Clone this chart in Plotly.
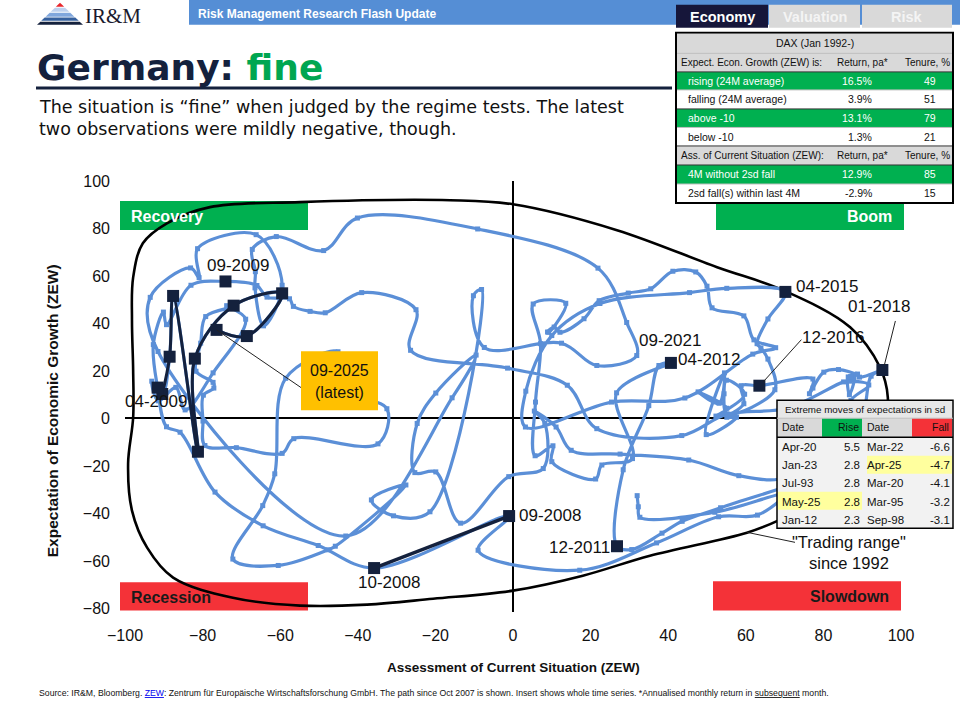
import plotly.graph_objects as go

# ---------------- data (ZEW Germany: current situation / expectations) ----------------
start_year, start_month = 2007, 11
cur_2007 = [32.0, 32.3]
exp_2007 = [-32.5, -37.2]
cur_2008 = [32.7, 52.0, 70.0, 63.0, 53.0, 37.0, 17.2, -9.0, -1.0, -35.8, -50.2, -64.4]
exp_2008 = [-41.6, -39.5, -32.0, -40.7, -41.4, -52.4, -63.9, -55.5, -41.1, -63.0, -53.5, -45.2]
cur_2009 = [-76.8, -85.8, -89.3, -91.6, -92.7, -90.1, -89.3, -83.0, -74.1, -66.0, -63.4, -57.6]
exp_2009 = [-31.0, -5.8, -3.5, 13.0, 31.1, 44.8, 39.5, 56.1, 57.7, 56.0, 51.1, 50.4]
cur_2010 = [-56.6, -52.3, -48.4, -39.0, -25.0, -26.4, -1.4, 14.0, 21.6, 43.5, 55.1, 70.7]
exp_2010 = [47.2, 45.1, 44.5, 53.0, 45.8, 28.7, 21.2, 14.0, -4.3, -7.2, 1.8, 4.3]
cur_2011 = [85.2, 86.8, 91.7, 87.1, 87.6, 91.5, 90.6, 53.5, 43.6, 38.4, 30.6, 26.8]
exp_2011 = [15.4, 15.7, 14.1, 7.6, 3.1, -9.0, -15.1, -37.6, -43.3, -48.3, -55.2, -53.8]
cur_2012 = [28.4, 35.0, 37.6, 40.7, 26.7, 30.8, 22.9, 21.3, 10.0, 10.3, 5.7, 5.8]
exp_2012 = [-21.6, 5.4, 22.3, 23.4, 10.8, -16.9, -19.6, -25.5, -18.2, -11.5, -15.7, 6.9]
cur_2013 = [7.1, 5.2, 13.6, 9.2, 8.9, 10.6, 12.1, 18.3, 22.2, 29.7, 35.5, 41.2]
exp_2013 = [31.5, 48.2, 48.5, 36.3, 36.4, 38.5, 36.3, 42.0, 49.6, 52.8, 54.6, 62.0]
cur_2014 = [47.1, 50.0, 51.3, 59.5, 62.1, 67.7, 61.8, 44.3, 25.4, 3.2, 3.3, 10.0]
exp_2014 = [61.7, 55.7, 46.6, 43.2, 33.1, 29.8, 27.1, 8.6, 6.9, -3.6, 11.5, 34.9]
cur_2015 = [22.4, 45.5, 55.1, 70.2, 65.7, 62.9, 63.9, 65.7, 67.5, 55.2, 54.4, 55.0]
exp_2015 = [48.4, 53.0, 54.8, 53.3, 41.9, 31.5, 29.7, 25.0, 12.1, 1.9, 10.4, 16.1]
cur_2016 = [59.7, 52.3, 55.1, 47.7, 53.1, 54.5, 49.8, 57.6, 55.1, 59.5, 58.8, 63.5]
exp_2016 = [10.2, 1.0, 4.3, 11.2, 6.4, 19.2, -6.8, 0.5, 0.5, 6.2, 13.8, 13.8]
cur_2017 = [77.3, 76.4, 77.3, 80.1, 83.9, 88.0, 86.4, 86.7, 87.9, 87.0, 88.8, 89.3]
exp_2017 = [16.6, 10.4, 12.8, 19.5, 20.6, 18.6, 17.5, 10.0, 17.0, 17.6, 18.7, 17.4]
cur_2018 = [95.2, 92.3, 90.7, 87.9, 87.4, 80.6, 72.4, 72.6, 76.0, 70.1, 58.2, 45.3]
exp_2018 = [20.4, 17.8, 5.1, -8.2, -8.2, -16.1, -24.7, -13.7, -10.6, -24.7, -24.1, -17.5]
cur_2019 = [27.6, 15.0, 11.1, 5.5, 8.2, 7.8, -1.1, -13.5, -19.9, -25.3, -24.7, -19.9]
exp_2019 = [-15.0, -13.4, -3.6, 3.1, -2.1, -21.1, -24.5, -44.1, -22.5, -22.8, -2.1, 10.7]
cur_2020 = [-9.5, -15.7, -43.1, -91.5, -93.5, -83.1, -80.9, -81.3, -66.2, -59.5, -64.3, -66.5]
exp_2020 = [26.7, 8.7, -49.5, 28.2, 51.0, 63.4, 59.3, 71.5, 77.4, 56.1, 39.0, 55.0]
cur_2021 = [-66.4, -67.2, -61.0, -48.8, -40.1, -9.1, 21.9, 29.3, 31.9, 21.6, 12.5, -7.4]
exp_2021 = [61.8, 71.2, 76.6, 70.7, 84.4, 79.8, 63.3, 40.4, 26.5, 22.3, 31.7, 29.9]
cur_2022 = [-10.2, -8.1, -21.4, -30.8, -36.5, -27.6, -45.8, -47.6, -60.5, -72.2, -64.5, -61.4]
exp_2022 = [51.7, 54.3, -39.3, -41.0, -34.3, -28.0, -53.8, -55.3, -61.9, -59.2, -36.7, -23.3]
cur_2023 = [-58.6, -45.1, -46.5, -32.5, -34.8, -56.5, -59.5, -71.3, -79.4, -79.9, -79.8, -77.1]
exp_2023 = [16.9, 28.1, 13.0, 4.1, -10.7, -8.5, -14.7, -12.3, -11.4, -1.1, 9.8, 12.8]
cur_2024 = [-77.3, -81.7, -80.5, -79.2, -72.3, -73.8, -68.9, -77.3, -84.5, -86.9, -91.4, -93.1]
exp_2024 = [15.2, 19.9, 31.7, 42.9, 47.1, 47.5, 41.8, 19.2, 3.6, 13.1, 7.4, 15.7]
cur_2025 = [-90.4, -88.5, -87.6, -81.2, -82.0, -72.0, -59.5, -68.6, -76.4]
exp_2025 = [10.3, 26.0, 51.6, -14.0, 25.2, 47.5, 52.7, 34.7, 37.3]

marked_dates = ["09-2008", "10-2008", "04-2009", "09-2009", "12-2011", "04-2012",
                "04-2015", "12-2016", "01-2018"]
dark_segment = ["09-2008", "10-2008"]
latest_from, latest_to = "01-2025", "09-2025"

# "Trading range" envelope since 1992
range_x = [0, 26.8, 52.6, 69.6, 86.9, 94.6, 96.6, 95.5, 87.0, 68.3, 60.3, 35.3, 18.0, 0,
           -20.6, -37.6, -54.9, -72.2, -87.6, -94.3, -98.2, -99.2, -97.9, -97.9, -98.2,
           -97.9, -95.4, -89.2, -78.1, -54.9, -16.2, 0]
range_y = [90.2, 79.3, 63.7, 54.0, 38.4, 21.5, 8.9, -6.0, -26.0, -43.0, -48.1, -57.8, -66.2,
           -72.5, -75.9, -78.4, -78.8, -75.5, -67.0, -54.4, -38.8, -19.0, 0.4, 20.2, 41.3,
           59.4, 73.8, 82.2, 89.0, 91.1, 91.9, 90.2]

x_ticks = [-100, -80, -60, -40, -20, 0, 20, 40, 60, 80, 100]
y_ticks = [-80, -60, -40, -20, 0, 20, 40, 60, 80, 100]

dax_rows = [
    ("Expect. Econ. Growth (ZEW) is:", "Return, pa*", "Tenure, %"),
    ("rising (24M average)", "16.5%", "49"),
    ("falling (24M average)", "3.9%", "51"),
    ("above -10", "13.1%", "79"),
    ("below -10", "1.3%", "21"),
    ("Ass. of Current Situation (ZEW):", "Return, pa*", "Tenure, %"),
    ("4M without 2sd fall", "12.9%", "85"),
    ("2sd fall(s) within last 4M", "-2.9%", "15"),
]
rise_dates = ["Apr-20", "Jan-23", "Jul-93", "May-25", "Jan-12"]
rise_vals = ["5.5", "2.8", "2.8", "2.8", "2.3"]
fall_dates = ["Mar-22", "Apr-25", "Mar-20", "Mar-95", "Sep-98"]
fall_vals = ["-6.6", "-4.7", "-4.1", "-3.2", "-3.1"]

# ---------------- assemble series ----------------
current = (cur_2007 + cur_2008 + cur_2009 + cur_2010 + cur_2011 + cur_2012 + cur_2013 +
           cur_2014 + cur_2015 + cur_2016 + cur_2017 + cur_2018 + cur_2019 + cur_2020 +
           cur_2021 + cur_2022 + cur_2023 + cur_2024 + cur_2025)
expect = (exp_2007 + exp_2008 + exp_2009 + exp_2010 + exp_2011 + exp_2012 + exp_2013 +
          exp_2014 + exp_2015 + exp_2016 + exp_2017 + exp_2018 + exp_2019 + exp_2020 +
          exp_2021 + exp_2022 + exp_2023 + exp_2024 + exp_2025)
labels = []
yy, mm = start_year, start_month
for _ in current:
    labels.append(f"{mm:02d}-{yy}")
    mm += 1
    if mm > 12:
        mm, yy = 1, yy + 1
idx = {lab: i for i, lab in enumerate(labels)}

# ---------------- styling / geometry ----------------
NARROW = "Liberation Sans, Arial, sans-serif"
SANS = "Liberation Sans, Arial, sans-serif"
BLUE = "#5B8FD7"
NAVY = "#14213D"
GREEN = "#00B050"
RED = "#F43238"

L, R, T, B = 125, 901, 181, 611.6
XR = [-100, 100]
YR = [-81.5, 100]
SX = (R - L) / (XR[1] - XR[0])
SY = (B - T) / (YR[1] - YR[0])


def PX(x):
    return (x - L) / (R - L)


def PY(y):
    return (B - y) / (B - T)


def off(lab, dx, dy):
    i = idx[lab]
    return current[i] + dx / SX, expect[i] - dy / SY


shapes, annots = [], []


def rect(x0, y0, x1, y1, fill, lc=None, lw=0, layer="above"):
    shapes.append(dict(type="rect", xref="paper", yref="paper", x0=PX(x0), x1=PX(x1),
                       y0=PY(y1), y1=PY(y0), fillcolor=fill, layer=layer,
                       line=dict(color=lc or fill, width=lw)))


def hline(x0, x1, y, color, w):
    shapes.append(dict(type="line", xref="paper", yref="paper", x0=PX(x0), x1=PX(x1),
                       y0=PY(y), y1=PY(y), line=dict(color=color, width=w)))


def text(x, y, s, size, color="#000", family=NARROW, xa="left", ya="middle", **kw):
    annots.append(dict(xref="paper", yref="paper", x=PX(x), y=PY(y), text=s,
                       showarrow=False, xanchor=xa, yanchor=ya, borderpad=0,
                       font=dict(size=size, color=color, family=family), **kw))


fig = go.Figure()

# trading range
fig.add_trace(go.Scatter(x=range_x, y=range_y, mode="lines",
                         line=dict(color="black", width=2.6, shape="spline", smoothing=1),
                         hoverinfo="skip"))
# full path
fig.add_trace(go.Scatter(x=current, y=expect, mode="lines+markers", text=labels,
                         line=dict(color=BLUE, width=3.2, shape="spline", smoothing=1),
                         marker=dict(symbol="square", size=5, color=BLUE)))
# dark highlighted segment (Sep-Oct 2008)
seg = [idx[d] for d in dark_segment]
fig.add_trace(go.Scatter(x=[current[i] for i in seg], y=[expect[i] for i in seg],
                         mode="lines", line=dict(color=NAVY, width=3.5)))
# latest path
i0, i1 = idx[latest_from], idx[latest_to] + 1
fig.add_trace(go.Scatter(x=current[i0:i1], y=expect[i0:i1], mode="lines+markers",
                         line=dict(color=NAVY, width=3, shape="spline", smoothing=1),
                         marker=dict(symbol="square", size=12, color=NAVY)))
# marked observations
mi = [idx[d] for d in marked_dates]
fig.add_trace(go.Scatter(x=[current[i] for i in mi], y=[expect[i] for i in mi],
                         mode="markers", marker=dict(symbol="square", size=12, color=NAVY)))

# date labels on the chart
label_specs = [
    ("09-2009", "center", 13, 16), ("04-2009", "center", -2, -14),
    ("04-2015", "left", 9, 5), ("12-2011", "right", -5, -1),
    ("09-2008", "left", 8, 1), ("10-2008", "center", 15, -14),
    ("04-2012", "left", 5, 3), ("09-2021", "left", 0, 15),
    ("01-2018", "center", -3, 64), ("12-2016", "center", 74, 48),
]
for lab, xa, xs, ys in label_specs:
    i = idx[lab]
    annots.append(dict(x=current[i], y=expect[i], xref="x", yref="y", text=lab,
                       showarrow=False, xanchor=xa, yanchor="middle", xshift=xs, yshift=ys,
                       font=dict(size=17, color="#111", family=NARROW)))
for lab, a, b in [("01-2018", (2, -5), (13, -49)), ("12-2016", (4, -4), (42, -46)),
                  ("09-2025", (0, 0), (85, 58))]:
    x0, y0 = off(lab, *a)
    x1, y1 = off(lab, *b)
    shapes.append(dict(type="line", xref="x", yref="y", x0=x0, y0=y0, x1=x1, y1=y1,
                       line=dict(color="#222", width=1)))

# latest box
rect(301, 351, 378, 410, "#FFC000")
text(339.5, 370, "09-2025", 16, "#111", xa="center")
text(339.5, 392, "(latest)", 16, "#111", xa="center")

# trading range label
shapes.append(dict(type="line", xref="paper", yref="paper", x0=PX(747), y0=PY(532),
                   x1=PX(795), y1=PY(542), line=dict(color="#222", width=1)))
text(849, 542, "\"Trading range\"", 16.5, "#111", xa="center")
text(849, 563, "since 1992", 16.5, "#111", xa="center")

# regime boxes
rect(120, 201, 308, 230, GREEN, layer="below")
text(130, 216, "<b>Recovery</b>", 16, "white")
rect(716, 201, 904, 230, GREEN, layer="below")
text(893, 216, "<b>Boom</b>", 16, "white", xa="right")
rect(120, 582, 308, 610, RED, layer="below")
text(130, 597, "<b>Recession</b>", 16, "#1a1a1a")
rect(713, 581, 901, 610, RED, layer="below")
text(890, 596, "<b>Slowdown</b>", 16, "#1a1a1a", xa="right")

# axis titles
text(513, 667, "<b>Assessment of Current Situation (ZEW)</b>", 13.5, "#111", xa="center")
text(52, 411, "<b>Expectation of Economic Growth (ZEW)</b>", 15.5, "#111", xa="center",
     textangle=-90)

# ---------------- header ----------------
rect(189, 0, 960, 25, "#558ED5")
text(197, 14, "<b>Risk Management Research Flash Update</b>", 12, "white", family=SANS)
bands = [(3, 7, "#E8262C"), (7.8, 12, "#BDD0EE"), (12.8, 16.8, "#7FA6DC"),
         (17.6, 21, "#35609E"), (21.8, 25, "#14213D")]
for y0, y1, c in bands:
    hw0, hw1 = (y0 - 3) / 22 * 23, (y1 - 3) / 22 * 23
    pts = [(60 - hw0, y0), (60 + hw0, y0), (60 + hw1, y1), (60 - hw1, y1)]
    path = "M " + " L ".join(f"{PX(a)},{PY(b)}" for a, b in pts) + " Z"
    shapes.append(dict(type="path", xref="paper", yref="paper", path=path,
                       fillcolor=c, line=dict(width=0)))
text(84, 16, "IR&amp;M", 21, "#1a1a2e", family="Liberation Serif, Times New Roman, serif")

rect(676, 5, 768, 28, "#16163A")
text(722, 17, "<b>Economy</b>", 14.5, "white", family=SANS, xa="center")
rect(769, 5, 860, 28, "#D9D9D9")
text(814.5, 17, "<b>Valuation</b>", 14.5, "#F4F4F4", family=SANS, xa="center")
rect(862, 5, 952, 28, "#D9D9D9")
text(907, 17, "<b>Risk</b>", 14.5, "#F4F4F4", family=SANS, xa="center")

text(36, 68, "<b>Germany: <span style='color:#00A651'>fine</span></b>", 36, NAVY,
     family="DejaVu Sans, Liberation Sans, sans-serif")
hline(36, 672, 88, NAVY, 3)
text(38, 107, "The situation is “fine” when judged by the regime tests. The latest", 17.5,
     "#111", family="DejaVu Sans, sans-serif")
text(38, 129, "two observations were mildly negative, though.", 17.5, "#111",
     family="DejaVu Sans, sans-serif")

# ---------------- DAX table ----------------
rect(676, 33, 953, 203, "white", "black", 2)
edges = [34, 53.5, 72, 90, 109, 127.5, 146, 165, 184, 202]
fills = ["#D9D9D9", "#D9D9D9", GREEN, "white", GREEN, "white", "#D9D9D9", GREEN, "white"]
for k, f in enumerate(fills):
    rect(677, edges[k], 952, edges[k + 1], f)
for e in [53.5, 90, 127.5, 184]:
    hline(677, 952, e, "#BFBFBF", 1)
for e in [72, 109, 146, 165]:
    hline(677, 952, e, "#333333", 1)
text(814.5, 43.5, "DAX (Jan 1992-)", 10.5, "#111", xa="center")
for k, (a, b, c) in enumerate(dax_rows):
    yc = (edges[k + 1] + edges[k + 2]) / 2
    if b.startswith("Return"):
        text(680, yc, a, 10, "#111")
        text(862, yc, b, 10, "#111", xa="center")
        text(951, yc, c, 10, "#111", xa="right")
    else:
        col = "white" if fills[k + 1] == GREEN else "#111"
        text(687, yc, a, 10.5, col)
        text(873, yc, b, 10.5, col, xa="right")
        text(929.5, yc, c, 10.5, col, xa="center")

# ---------------- extreme moves table ----------------
rect(777, 400, 953, 528, "#F2F2F2", "black", 1.5)
rect(778, 401, 952, 418, "#E7E7E7")
text(865, 409.5, "Extreme moves of expectations in sd", 9.8, "#111", xa="center")
rect(778, 418, 822, 436.5, "#D9D9D9")
rect(822, 418, 862, 436.5, GREEN)
rect(862, 418, 912, 436.5, "#D9D9D9")
rect(912, 418, 952, 436.5, RED)
hline(777, 953, 418, "#BFBFBF", 1)
hline(777, 953, 437, "black", 1.5)
rect(867, 455.5, 952, 473.5, "#FFFF9E")
rect(778, 491.5, 862, 509.5, "#FFFF9E")
text(781, 427, "Date", 10.5, "#111")
text(860, 427, "Rise", 10.5, "#111", xa="right")
text(866, 427, "Date", 10.5, "#111")
text(950, 427, "Fall", 10.5, "#111", xa="right")
for k in range(5):
    yc = 447 + k * 18.1
    text(781, yc, rise_dates[k], 11.5, "#111")
    text(861, yc, rise_vals[k], 11.5, "#111", xa="right")
    text(866, yc, fall_dates[k], 11.5, "#111")
    text(951, yc, fall_vals[k], 11.5, "#111", xa="right")

# footer
text(38, 693, "Source: IR&amp;M, Bloomberg. <span style='color:#0000EE'><u>ZEW</u></span>: "
     "Zentrum für Europäische Wirtschaftsforschung GmbH. The path since Oct 2007 is shown. "
     "Insert shows whole time series. *Annualised monthly return in <u>subsequent</u> month.",
     8.7, "#111")

fig.update_layout(
    width=960, height=703, paper_bgcolor="white", plot_bgcolor="white",
    margin=dict(l=L, r=960 - R, t=T, b=703 - B), showlegend=False,
    shapes=shapes, annotations=annots, hovermode=False,
    xaxis=dict(range=XR, tickvals=x_ticks, showgrid=False, zeroline=True,
               zerolinecolor="black", zerolinewidth=2, showline=False, ticks="",
               ticklabelstandoff=12, tickfont=dict(family=NARROW, size=16, color="#111")),
    yaxis=dict(range=YR, tickvals=y_ticks, showgrid=False, zeroline=True,
               zerolinecolor="black", zerolinewidth=2, showline=False, ticks="",
               ticklabelstandoff=14, tickfont=dict(family=NARROW, size=16, color="#111")),
)
fig.write_html("out.html", config={"displayModeBar": False},
               post_script="document.body.style.margin='0';document.body.style.overflow='hidden';")
